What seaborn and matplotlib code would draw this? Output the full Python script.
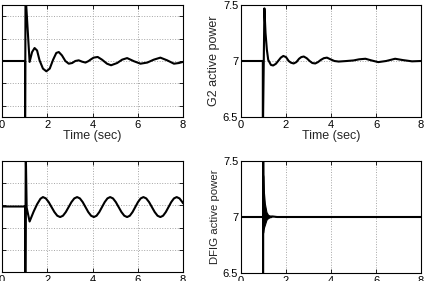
import matplotlib
matplotlib.use('Agg')
import matplotlib.pyplot as plt
import seaborn as sns

# ---------------- data ----------------
x_ticks = [0, 2, 4, 6, 8]
x_tick_labels = ['0', '2', '4', '6', '8']

# top-left panel (label cropped in reference)
g1_t = [0.0, 1.02, 1.02, 1.04, 1.22, 1.33, 1.44, 1.55, 1.66, 1.81, 1.96, 2.11, 2.26,
        2.40, 2.51, 2.65, 2.80, 2.95, 3.10, 3.24, 3.39, 3.54, 3.69, 3.83, 3.91, 4.05,
        4.23, 4.42, 4.64, 4.82, 5.09, 5.31, 5.53, 5.83, 6.12, 6.42, 6.71, 7.00, 7.30,
        7.60, 7.82, 8.00]
g1_p = [7.0, 7.0, 5.5, 8.5, 6.98, 7.20, 7.29, 7.235, 7.015, 6.83, 6.77, 6.83, 7.03,
        7.18, 7.20, 7.125, 7.0, 6.94, 6.955, 7.0, 7.015, 6.985, 6.965, 7.0, 7.03, 7.075,
        7.09, 7.03, 6.94, 6.905, 6.955, 7.03, 7.065, 6.995, 6.94, 6.965, 7.03, 7.075, 7.015,
        6.94, 6.955, 6.98]
g1_yticks = [6.0, 6.5, 7.0, 7.5, 8.0]
g1_ytick_labels = ['6', '6.5', '7', '7.5', '8']

# top-right panel: G2 active power
g2_t = [0.0, 0.97, 0.97, 1.04, 1.09, 1.15, 1.21, 1.33, 1.43, 1.55, 1.65, 1.77, 1.88,
        2.00, 2.12, 2.22, 2.34, 2.46, 2.58, 2.68, 2.79, 2.92, 3.05, 3.17, 3.30, 3.42,
        3.55, 3.68, 3.82, 3.98, 4.15, 4.34, 4.70, 5.00, 5.25, 5.53, 5.80, 6.10, 6.45,
        6.85, 7.20, 7.60, 8.00]
g2_p = [7.0, 7.0, 6.3, 7.47, 7.25, 7.10, 7.01, 6.965, 6.96, 6.975, 7.0, 7.03, 7.045,
        7.035, 7.0, 6.985, 6.978, 6.99, 7.02, 7.035, 7.04, 7.025, 7.0, 6.982, 6.978, 6.99,
        7.01, 7.025, 7.03, 7.015, 7.0, 6.995, 7.0, 7.005, 7.015, 7.02, 7.005, 6.99, 7.0,
        7.02, 7.008, 6.997, 7.0]
g2_yticks = [6.5, 7.0, 7.5]
g2_ytick_labels = ['6.5', '7', '7.5']

# bottom-left panel (label cropped in reference)
g3_t = [0.0, 1.03, 1.03, 1.05, 1.09, 1.22, 1.40, 1.55, 1.70, 1.81,
        1.937, 2.063, 2.19, 2.317, 2.443, 2.57,
        2.695, 2.82, 2.945, 3.07, 3.195, 3.32,
        3.443, 3.567, 3.69, 3.813, 3.937, 4.06,
        4.18, 4.30, 4.42, 4.54, 4.66, 4.78,
        4.905, 5.03, 5.155, 5.28, 5.405, 5.53,
        5.65, 5.77, 5.89, 6.01, 6.13, 6.25,
        6.375, 6.50, 6.625, 6.75, 6.875, 7.00,
        7.12, 7.24, 7.36, 7.48, 7.60, 7.72,
        7.845, 7.97, 8.00]
g3_p = [6.99, 6.99, 6.3, 7.5, 6.98, 6.855, 6.945, 7.01, 7.06, 7.075,
        7.063, 7.03, 6.985, 6.94, 6.907, 6.895,
        6.907, 6.94, 6.985, 7.03, 7.063, 7.075,
        7.063, 7.03, 6.985, 6.94, 6.907, 6.895,
        6.907, 6.94, 6.985, 7.03, 7.063, 7.075,
        7.063, 7.03, 6.985, 6.94, 6.907, 6.895,
        6.907, 6.94, 6.985, 7.03, 7.063, 7.075,
        7.063, 7.03, 6.985, 6.94, 6.907, 6.895,
        6.907, 6.94, 6.985, 7.03, 7.063, 7.075,
        7.063, 7.03, 7.02]
g3_yticks = [6.4, 6.6, 6.8, 7.0, 7.2, 7.4]
g3_ytick_labels = ['6.4', '6.6', '6.8', '7', '7.2', '7.4']

# bottom-right panel: DFIG active power
dfig_t = [0.0, 0.98, 0.98, 0.985, 1.0, 1.4, 1.6, 8.0]
dfig_p = [7.0, 7.0, 6.3, 7.7, 7.0, 7.005, 7.0, 7.0]
# envelope of the fast decaying oscillation after the fault
env_t = [0.98, 0.99, 1.01, 1.06, 1.13, 1.20, 1.28, 1.35]
env_hi = [7.375, 7.36, 7.24, 7.12, 7.045, 7.02, 7.01, 7.0]
env_lo = [6.86, 6.87, 6.90, 6.93, 6.975, 6.99, 6.998, 7.0]
dfig_yticks = [6.5, 7.0, 7.5]
dfig_ytick_labels = ['6.5', '7', '7.5']

# ---------------- style ----------------
sns.set_style('white')
plt.rcParams['font.family'] = ['Liberation Sans', 'DejaVu Sans']

fig = plt.figure(figsize=(4.24, 2.81), dpi=100)
fig.patch.set_facecolor('white')

ax_tl = fig.add_axes([2 / 424, 1 - 117 / 281, 181 / 424, 112 / 281])
ax_tr = fig.add_axes([241 / 424, 1 - 117 / 281, 180 / 424, 112 / 281])
ax_bl = fig.add_axes([2 / 424, 1 - 272 / 281, 181 / 424, 111 / 281])
ax_br = fig.add_axes([241 / 424, 1 - 273 / 281, 180 / 424, 112 / 281])

LW = 1.5


def style(ax, ylim, yticks, ylabels, xlabel='', ylabel='', ylsize=8.5):
    ax.set_xlim(0, 8)
    ax.set_xticks(x_ticks)
    ax.set_xticklabels(x_tick_labels)
    ax.set_ylim(*ylim)
    ax.set_yticks(yticks)
    ax.set_yticklabels(ylabels)
    ax.grid(True, linestyle=':', color='#a5a5a5', linewidth=0.7)
    ax.set_axisbelow(True)
    for s in ax.spines.values():
        s.set_visible(True)
        s.set_color('black')
        s.set_linewidth(0.8)
    ax.tick_params(direction='in', length=3, width=0.6, labelsize=8, pad=2,
                   colors='black', top=True, right=True, bottom=True, left=True)
    ax.set_xlabel(xlabel, fontsize=9, labelpad=0)
    ax.set_ylabel(ylabel, fontsize=ylsize, labelpad=2)


sns.lineplot(x=g1_t, y=g1_p, ax=ax_tl, color='black', linewidth=LW,
             sort=False, estimator=None)
style(ax_tl, (5.75, 8.25), g1_yticks, g1_ytick_labels, xlabel='Time (sec)')

sns.lineplot(x=g2_t, y=g2_p, ax=ax_tr, color='black', linewidth=LW,
             sort=False, estimator=None)
style(ax_tr, (6.5, 7.5), g2_yticks, g2_ytick_labels, xlabel='Time (sec)',
      ylabel='G2 active power', ylsize=9)

sns.lineplot(x=g3_t, y=g3_p, ax=ax_bl, color='black', linewidth=LW,
             sort=False, estimator=None)
style(ax_bl, (6.4, 7.4), g3_yticks, g3_ytick_labels)

ax_br.fill_between(env_t, env_lo, env_hi, color='black', linewidth=0.8,
                   edgecolor='black')
sns.lineplot(x=dfig_t, y=dfig_p, ax=ax_br, color='black', linewidth=LW,
             sort=False, estimator=None)
style(ax_br, (6.5, 7.5), dfig_yticks, dfig_ytick_labels,
      ylabel='DFIG active power', ylsize=8.2)

fig.savefig('out.png', dpi=100, facecolor='white')
